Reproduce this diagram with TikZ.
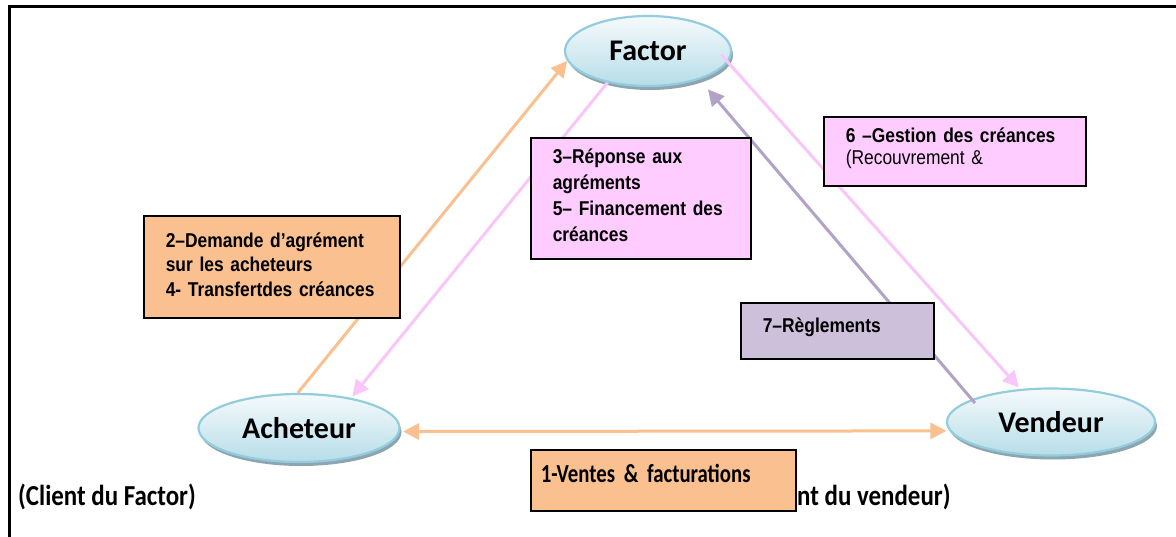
\documentclass[tikz,border=0pt]{standalone}
\usepackage{fontspec}
\setmainfont{Liberation Sans}
\newfontfamily\boxfont[FakeStretch=0.87]{Liberation Sans}
\newfontfamily\calfont{Carlito}
\newfontfamily\calnarrow[FakeStretch=0.86]{Carlito}
\newfontfamily\calnarrowb[FakeStretch=0.8]{Carlito}
\usetikzlibrary{shapes.geometric,arrows.meta,shadows}
\definecolor{ellborder}{HTML}{93CDDD}
\definecolor{elltop}{HTML}{F5FAFC}
\definecolor{ellbot}{HTML}{B7DDE8}
\definecolor{ellshadow}{HTML}{8CA5B0}
\definecolor{orangefill}{HTML}{FAC090}
\definecolor{orangearrow}{HTML}{FAC090}
\definecolor{pinkfill}{HTML}{FFCCFF}
\definecolor{pinkarrow}{HTML}{F9C6F9}
\definecolor{lavfill}{HTML}{CCC0DA}
\definecolor{lavarrow}{HTML}{B3A2C7}
\tikzset{
  party/.style={ellipse, draw=ellborder, line width=2.2pt, top color=elltop,
    bottom color=ellbot, inner sep=0pt,
    drop shadow={shadow xshift=2pt, shadow yshift=-4pt, fill=ellshadow, opacity=1},
    font=\calfont\bfseries\fontsize{30}{32}\selectfont},
  conn/.style={line width=3pt, -{Triangle[length=16pt,width=16pt]}},
  dconn/.style={line width=3pt, {Triangle[length=16pt,width=16pt]}-{Triangle[length=16pt,width=16pt]}},
  infobox/.style={draw=black, line width=1.6pt, rectangle, anchor=north west,
    inner xsep=22pt, inner ysep=0pt, align=left,
    font=\boxfont\bfseries\fontsize{20}{24.5}\selectfont},
  sidelabel/.style={anchor=west, inner sep=0pt, font=\calnarrow\bfseries\fontsize{29}{31}\selectfont}
}
\begin{document}
\begin{tikzpicture}[x=1pt,y=-1pt]
\useasboundingbox (0,0) rectangle (1176,537);
\fill[white] (0,0) rectangle (1176,537);
% frame
\draw[line width=3pt] (9,537) -- (9,6.5) -- (1176,6.5);
% parties
\node[party, minimum width=166pt, minimum height=70pt] (fac) at (648,51) {\raisebox{-3pt}{Factor}};
\node[party, minimum width=201pt, minimum height=68pt] (ach) at (299,428) {Acheteur};
\node[party, minimum width=208pt, minimum height=67pt] (ven) at (1051,422) {Vendeur};
% connectors
\draw[conn, orangearrow] (ach.92) -- (fac.187);
\draw[conn, pinkarrow, shorten >=2pt] (fac.218) -- (ach.30);
\draw[conn, pinkarrow, shorten <=-10pt, shorten >=2pt] (fac.352) -- (ven.133);
\draw[conn, lavarrow, shorten >=13pt, shorten <=-5pt] (ven.164) -- (fac.331);
\draw[dconn, orangearrow, shorten <=3pt, shorten >=3pt] (ach.-2) -- (ven.185);
% boxes
\node[infobox, fill=orangefill, text width=212pt] (b2) at (143,215)
  {\rule{0pt}{31.5pt}2–Demande d’agrément\\sur les acheteurs\\4- Transfertdes créances\rule[-21.5pt]{0pt}{21.5pt}};
\node[infobox, fill=pinkfill, text width=176pt, font=\boxfont\bfseries\fontsize{20}{26}\selectfont] (b3) at (530,137)
  {\rule{0pt}{25.5pt}3–Réponse aux\\agréments\\5– Financement des\\créances\rule[-17.5pt]{0pt}{17.5pt}};
\node[infobox, fill=pinkfill, text width=218pt, font=\boxfont\bfseries\fontsize{20}{22}\selectfont] (b6) at (823,116)
  {\rule{0pt}{25.5pt}6 –Gestion des créances\\{\mdseries(Recouvrement \&}\rule[-21.5pt]{0pt}{21.5pt}};
\node[infobox, fill=lavfill, text width=149pt] (b7) at (740,302)
  {\rule{0pt}{29.5pt}7–Règlements\rule[-26.5pt]{0pt}{26.5pt}};
% bottom labels
\node[sidelabel] (cl) at (18,497) {(Client du Factor)};
\node[sidelabel] (cv) at (797,497) {nt du vendeur)};
\node[infobox, fill=orangefill, inner xsep=10pt, text width=245pt, font=\calnarrowb\bfseries\fontsize{26}{28}\selectfont] (b1) at (530,449)
  {\rule{0pt}{32.4pt}1-Ventes \& facturations\rule[-28.6pt]{0pt}{28.6pt}};
\end{tikzpicture}
\end{document}
